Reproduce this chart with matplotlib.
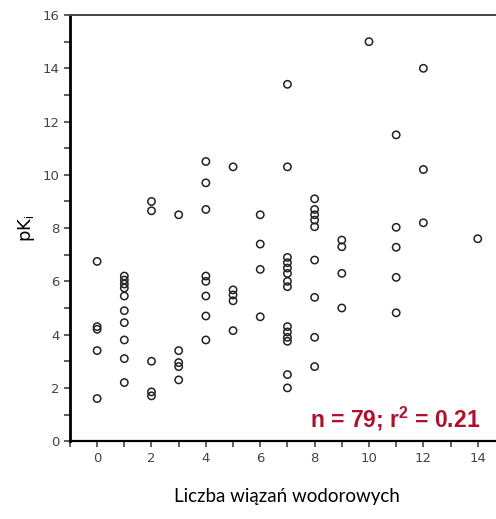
import matplotlib
matplotlib.use("Agg")
import matplotlib.pyplot as plt
from matplotlib.ticker import MultipleLocator

# number of hydrogen bonds (x) and pKi values (y), read column by column
hbonds = (
    [0] * 5 + [1] * 10 + [2] * 5 + [3] * 5 + [4] * 8 + [5] * 5 + [6] * 4
    + [7] * 14 + [8] * 9 + [9] * 4 + [10] * 1 + [11] * 5 + [12] * 3 + [14] * 1
)
pki = [
    6.75, 4.3, 4.2, 3.4, 1.6,
    6.2, 6.05, 5.9, 5.75, 5.45, 4.9, 4.45, 3.8, 3.1, 2.2,
    9.0, 8.65, 3.0, 1.85, 1.7,
    8.5, 3.4, 2.95, 2.8, 2.3,
    10.5, 9.7, 8.7, 6.2, 6.0, 5.45, 4.7, 3.8,
    10.3, 5.68, 5.49, 5.27, 4.15,
    8.5, 7.4, 6.45, 4.67,
    13.4, 10.3, 6.9, 6.7, 6.5, 6.3, 6.0, 5.8, 4.3, 4.1, 3.9, 3.75, 2.5, 2.0,
    9.1, 8.7, 8.5, 8.3, 8.05, 6.8, 5.4, 3.9, 2.8,
    7.55, 7.3, 6.3, 5.0,
    15.0,
    11.5, 8.03, 7.28, 6.15, 4.82,
    14.0, 10.2, 8.2,
    7.6,
]
x_ticks = [0, 2, 4, 6, 8, 10, 12, 14]
y_ticks = [0, 2, 4, 6, 8, 10, 12, 14, 16]

plt.rcParams["mathtext.fontset"] = "custom"
plt.rcParams["mathtext.rm"] = "Liberation Sans"
plt.rcParams["mathtext.bf"] = "Liberation Sans:bold"

fig = plt.figure(figsize=(4.96, 5.19), dpi=100)
ax = fig.add_axes([0.141, 0.150, 0.877, 0.821])

ax.scatter(hbonds, pki, s=28, facecolors="none", edgecolors="#222222", linewidths=1.1)

ax.set_xlim(-1, 15)
ax.set_ylim(0, 16)
ax.set_xticks(x_ticks)
ax.set_yticks(y_ticks)
ax.xaxis.set_minor_locator(MultipleLocator(1))
ax.yaxis.set_minor_locator(MultipleLocator(1))
ax.tick_params(which="both", direction="out", length=4, width=1.1, color="#333333",
               labelsize=9.5, labelcolor="#444444")

ax.spines["right"].set_visible(False)
ax.spines["left"].set_linewidth(2.0)
ax.spines["bottom"].set_linewidth(1.6)
ax.spines["top"].set_linewidth(1.4)
ax.spines["top"].set_color("#444444")

ax.set_ylabel("pK$_\\mathrm{i}$", fontsize=13, family="DejaVu Sans", labelpad=4)
ax.set_xlabel("Liczba wiązań wodorowych", fontsize=13.5, family="Lato", labelpad=17)

ax.text(14.1, 0.5, "n = 79; r$^\\mathbf{2}$ = 0.21", ha="right", va="baseline",
        fontsize=16.5, fontweight="bold", color="#b0102a", family="Liberation Sans")

plt.savefig("out.png", dpi=100)
